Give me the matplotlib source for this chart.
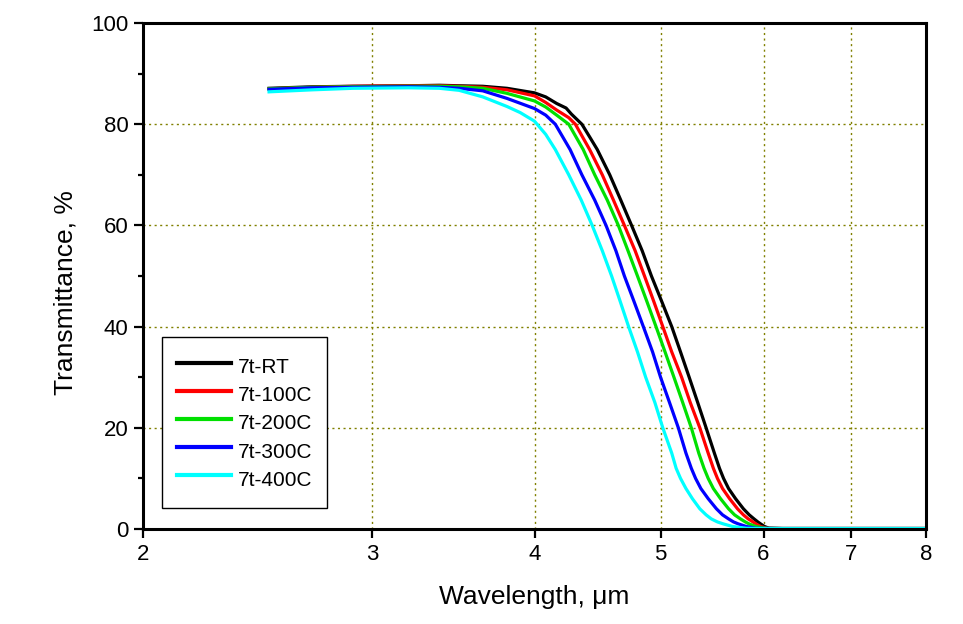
import matplotlib
matplotlib.use("Agg")
import matplotlib.pyplot as plt
from matplotlib.ticker import FixedLocator, NullLocator, MultipleLocator

plt.rcParams['font.family'] = ['Liberation Sans', 'DejaVu Sans']

# Transmittance curves (wavelength in um, T in %)
wl_rt = [2.5, 2.7, 2.9, 3.2, 3.38, 3.5, 3.65, 3.81, 4.0, 4.08, 4.16, 4.23, 4.27, 4.35, 4.41,
         4.47, 4.57, 4.66, 4.75, 4.84, 4.92, 5.01, 5.10, 5.18, 5.26, 5.34, 5.42, 5.50,
         5.55, 5.59, 5.64, 5.71, 5.79, 5.85, 5.90, 5.94, 5.97, 6.01, 6.06, 6.2, 6.5,
         7.0, 7.5, 8.0]
t_rt = [87.1, 87.4, 87.5, 87.6, 87.7, 87.6, 87.5, 87.1, 86.2, 85.4, 84.1, 83.2, 82.0, 80.0, 77.5,
        75.0, 70.0, 65.0, 60.0, 55.0, 50.0, 45.0, 40.0, 35.0, 30.0, 25.0, 20.0, 15.0,
        12.0, 10.0, 8.0, 6.0, 4.0, 2.8, 2.0, 1.4, 1.0, 0.5, 0.15, 0.1, 0.1,
        0.1, 0.1, 0.1]

wl_100 = [2.5, 2.7, 2.9, 3.2, 3.38, 3.5, 3.65, 3.81, 4.0, 4.08, 4.16, 4.25, 4.30, 4.41,
          4.51, 4.60, 4.69, 4.78, 4.86, 4.94, 5.02, 5.10, 5.19, 5.27, 5.36, 5.44, 5.49,
          5.53, 5.58, 5.65, 5.73, 5.79, 5.84, 5.89, 5.92, 5.97, 6.04, 6.2, 6.5, 7.0,
          7.5, 8.0]
t_100 = [87.0, 87.3, 87.5, 87.6, 87.6, 87.5, 87.3, 86.8, 85.6, 84.3, 82.8, 81.3, 80.0, 75.0,
         70.0, 65.0, 60.0, 55.0, 50.0, 45.0, 40.0, 35.0, 30.0, 25.0, 20.0, 15.0, 12.0,
         10.0, 8.0, 6.0, 4.0, 2.8, 2.0, 1.4, 1.0, 0.5, 0.15, 0.1, 0.1, 0.1,
         0.1, 0.1]

wl_200 = [2.5, 2.7, 2.9, 3.2, 3.38, 3.5, 3.65, 3.81, 4.0, 4.08, 4.16, 4.25, 4.36, 4.45,
          4.55, 4.64, 4.72, 4.80, 4.88, 4.96, 5.04, 5.12, 5.20, 5.28, 5.35, 5.40, 5.44,
          5.49, 5.56, 5.64, 5.70, 5.76, 5.81, 5.85, 5.92, 6.02, 6.2, 6.5, 7.0, 7.5, 8.0]
t_200 = [87.0, 87.3, 87.4, 87.5, 87.5, 87.4, 87.1, 86.1, 84.6, 83.4, 81.8, 80.0, 75.0, 70.0,
         65.0, 60.0, 55.0, 50.0, 45.0, 40.0, 35.0, 30.0, 25.0, 20.0, 15.0, 12.0, 10.0,
         8.0, 6.0, 4.0, 2.8, 2.0, 1.4, 1.0, 0.5, 0.15, 0.1, 0.1, 0.1, 0.1, 0.1]

wl_300 = [2.5, 2.7, 2.9, 3.2, 3.38, 3.5, 3.65, 3.81, 4.0, 4.08, 4.15, 4.26, 4.35, 4.45,
          4.54, 4.62, 4.69, 4.77, 4.85, 4.93, 5.00, 5.08, 5.16, 5.23, 5.28, 5.32, 5.37,
          5.44, 5.52, 5.58, 5.64, 5.69, 5.74, 5.82, 5.92, 6.2, 6.5, 7.0, 7.5, 8.0]
t_300 = [86.9, 87.2, 87.3, 87.4, 87.3, 87.1, 86.6, 85.1, 83.1, 81.8, 80.0, 75.0, 70.0, 65.0,
         60.0, 55.0, 50.0, 45.0, 40.0, 35.0, 30.0, 25.0, 20.0, 15.0, 12.0, 10.0, 8.0,
         6.0, 4.0, 2.8, 2.0, 1.4, 1.0, 0.5, 0.15, 0.1, 0.1, 0.1, 0.1, 0.1]

wl_400 = [2.5, 2.7, 2.9, 3.2, 3.38, 3.5, 3.65, 3.81, 3.9, 4.0, 4.08, 4.15, 4.25, 4.345,
          4.43, 4.51, 4.585, 4.655, 4.725, 4.80, 4.87, 4.95, 5.02, 5.10, 5.14, 5.18, 5.23,
          5.29, 5.36, 5.42, 5.47, 5.53, 5.59, 5.68, 5.82, 6.0, 6.5, 7.0, 7.5, 8.0]
t_400 = [86.4, 86.8, 87.1, 87.2, 87.1, 86.7, 85.4, 83.5, 82.3, 80.6, 78.0, 75.0, 70.0, 65.0,
         60.0, 55.0, 50.0, 45.0, 40.0, 35.0, 30.0, 25.0, 20.0, 15.0, 12.0, 10.0, 8.0,
         6.0, 4.0, 2.8, 2.0, 1.4, 1.0, 0.5, 0.15, 0.1, 0.1, 0.1, 0.1, 0.1]

labels = ['7t-RT', '7t-100C', '7t-200C', '7t-300C', '7t-400C']
colors = ['black', '#ff0000', '#00e000', '#0000ff', '#00ffff']
x_ticks = [2, 3, 4, 5, 6, 7, 8]

fig = plt.figure(figsize=(9.63, 6.24), dpi=100)
ax = fig.add_axes([0.1485, 0.1522, 0.8131, 0.8109])

series = [(wl_rt, t_rt), (wl_100, t_100), (wl_200, t_200), (wl_300, t_300), (wl_400, t_400)]
for (wl, t), lab, col in zip(series, labels, colors):
    ax.plot(wl, t, color=col, linewidth=2.3, label=lab, solid_joinstyle='round')

ax.set_xscale('log')
ax.set_xlim(2, 8)
ax.set_ylim(0, 100)
ax.xaxis.set_major_locator(FixedLocator(x_ticks))
ax.xaxis.set_minor_locator(NullLocator())
ax.set_xticklabels([str(v) for v in x_ticks])
ax.yaxis.set_major_locator(MultipleLocator(20))
ax.yaxis.set_minor_locator(MultipleLocator(10))

# Grid
ax.grid(True, which='major', color='#808000', linestyle=(0, (1.5, 2.5)), linewidth=1.0)

for sp in ax.spines.values():
    sp.set_linewidth(2.2)

ax.tick_params(axis='both', which='major', direction='out', length=6.5, width=1.6,
               labelsize=16, pad=4, top=False, right=False)
ax.tick_params(axis='y', which='minor', direction='out', length=3.5, width=1.6, right=False)

ax.set_xlabel('Wavelength, μm', fontsize=19, labelpad=15)
ax.set_ylabel('Transmittance, %', fontsize=19)
ax.yaxis.set_label_coords(-0.084, 0.468)

leg = ax.legend(loc='lower left', bbox_to_anchor=(0.0243, 0.0415), borderaxespad=0,
                fontsize=15, handlelength=2.6, handleheight=1.7, handletextpad=0.3,
                labelspacing=0.0, borderpad=0.72, fancybox=False, frameon=True)
leg.get_frame().set_edgecolor('black')
leg.get_frame().set_linewidth(1.0)
leg.get_frame().set_alpha(1)
for line in leg.get_lines():
    line.set_linewidth(3)

fig.savefig('out.png', dpi=100)
